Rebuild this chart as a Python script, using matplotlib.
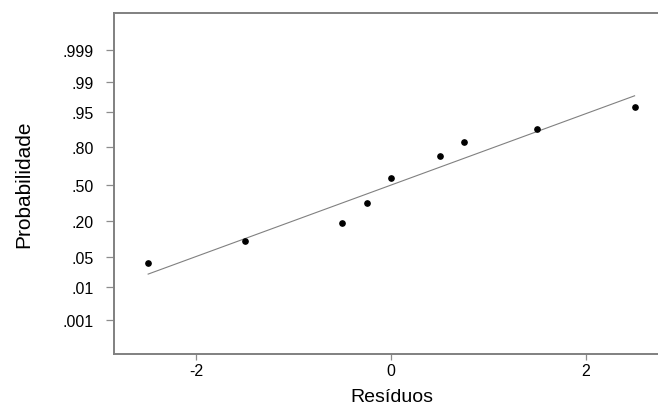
import numpy as np
import matplotlib
matplotlib.use("Agg")
import matplotlib.pyplot as plt

plt.rcParams["font.family"] = ["Liberation Sans", "DejaVu Sans"]

# residuals and their normal scores
residuals = [-2.49, -1.50, -0.50, -0.25, 0.0, 0.50, 0.75, 1.50, 2.50]
scores = [-2.17, -1.56, -1.06, -0.49, 0.19, 0.81, 1.21, 1.56, 2.16]

# fitted reference line
line_x = [-2.49, 2.50]
line_y = [-2.47, 2.48]

prob_labels = [".001", ".01", ".05", ".20", ".50", ".80", ".95", ".99", ".999"]
prob_scores = [-3.75, -2.83, -2.0, -1.0, 0.0, 1.05, 2.03, 2.86, 3.76]

x_ticks = [-2, 0, 2]
x_labels = ["-2", "0", "2"]

fig = plt.figure(figsize=(6.58, 4.10), dpi=100)
ax = fig.add_axes([0.1733, 0.134, 0.8267, 0.832])

ax.plot(line_x, line_y, color="0.5", lw=0.8)
ax.plot(residuals, scores, "o", color="black", ms=3.8)

ax.set_xlim(-2.84, 2.74)
ax.set_ylim(-4.69, 4.78)
ax.set_xticks(x_ticks)
ax.set_xticklabels(x_labels)
ax.set_yticks(prob_scores)
ax.set_yticklabels(prob_labels)

for side in ["left", "bottom", "top"]:
    ax.spines[side].set_color("0.5")
    ax.spines[side].set_linewidth(1.4)
ax.spines["right"].set_visible(False)

ax.tick_params(axis="both", colors="0.55", labelcolor="black", labelsize=11.5,
               width=0.9, direction="out")
ax.tick_params(axis="y", length=5.8, pad=9)
ax.tick_params(axis="x", length=4.3, pad=2)

ax.set_xlabel("Resíduos", fontsize=14, labelpad=0)
ax.set_ylabel("Probabilidade", fontsize=15)
ax.yaxis.set_label_coords(-0.148, 0.5)
ax.xaxis.set_label_coords(0.51, -0.1)

fig.savefig("out.png", dpi=100)
